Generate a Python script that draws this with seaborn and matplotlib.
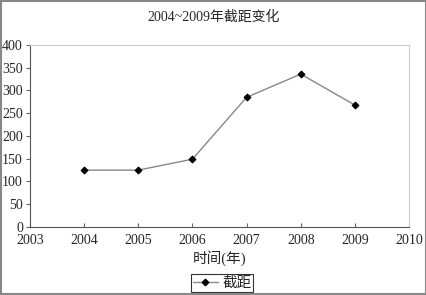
import matplotlib
matplotlib.use("Agg")
import matplotlib.pyplot as plt
import seaborn as sns
import pandas as pd

years = [2004, 2005, 2006, 2007, 2008, 2009]
intercept = [125, 125, 149, 285, 336, 268]
x_ticks = [2003, 2004, 2005, 2006, 2007, 2008, 2009, 2010]
y_ticks = [0, 50, 100, 150, 200, 250, 300, 350, 400]

sns.set_style("white")
plt.rcParams['font.family'] = ['Liberation Serif', 'Noto Sans CJK SC', 'DejaVu Sans']

df = pd.DataFrame({"year": years, "截距": intercept})

fig = plt.figure(figsize=(4.27, 2.95), dpi=100)
ax = fig.add_axes([0.070, 0.2305, 0.888, 0.617])
sns.lineplot(data=df, x="year", y="截距", ax=ax, color="#888888", linewidth=1.0,
             marker="D", markersize=3.5, markerfacecolor="black", markeredgecolor="black",
             label="截距")
ax.set_xlim(2003, 2010)
ax.set_ylim(0, 400)
ax.set_xticks(x_ticks)
ax.set_yticks(y_ticks)
ax.tick_params(axis='x', direction='in', length=3, labelsize=10, pad=5, color='#666666', bottom=True)
ax.tick_params(axis='y', direction='out', length=3, labelsize=10, pad=2, color='#666666', left=True)
for s in ['left', 'bottom']:
    ax.spines[s].set_color('#555555')
    ax.spines[s].set_linewidth(0.8)
for s in ['top', 'right']:
    ax.spines[s].set_color('#cccccc')
    ax.spines[s].set_linewidth(0.8)
ax.set_xlabel("时间(年)", fontsize=10.5, labelpad=2)
ax.set_ylabel("")
fig.suptitle("2004~2009年截距变化", fontsize=10, y=0.965)
leg = ax.legend(loc='center', bbox_to_anchor=(0.52, 0.04), bbox_transform=fig.transFigure,
                frameon=True, fancybox=False, fontsize=10.5, handlelength=1.7,
                borderpad=0.15, handletextpad=0.3, borderaxespad=0)
leg.get_frame().set_edgecolor('black')
leg.get_frame().set_linewidth(0.8)
fig.patches.append(plt.Rectangle((0.002, 0.003), 0.996, 0.994, transform=fig.transFigure,
                                 fill=False, edgecolor='#888888', linewidth=1.5))
fig.savefig("out.png", dpi=100)
